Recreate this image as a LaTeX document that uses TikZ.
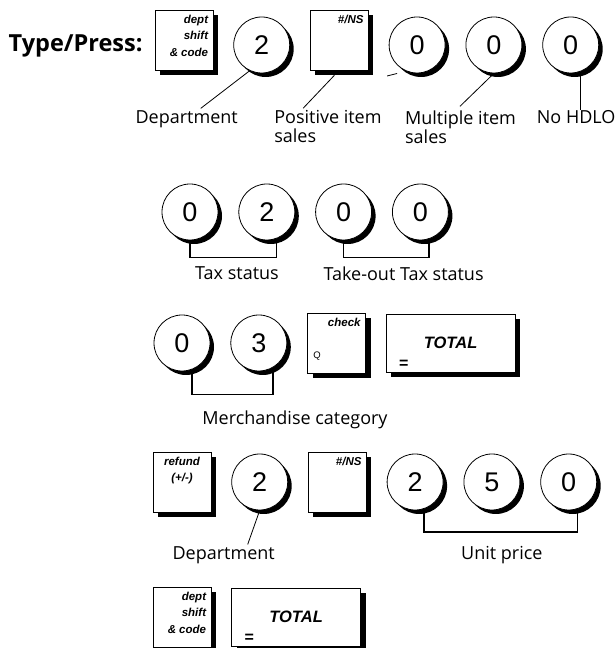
\documentclass[tikz,border=0pt]{standalone}
\usepackage{fontspec}
\setmainfont{Open Sans}
\newfontfamily\keyfont{Liberation Sans}
\usetikzlibrary{positioning, shadows}

\begin{document}
\begin{tikzpicture}[x=1pt, y=1pt,
  key/.style={rectangle, draw=black, line width=0.6pt, fill=white, minimum width=58pt, minimum height=60pt, inner sep=0pt,
    drop shadow={shadow xshift=5pt, shadow yshift=-5pt, fill=black, opacity=1}},
  widekey/.style={key, minimum width=129pt, minimum height=58pt, font=\keyfont\bfseries\itshape\fontsize{16.5}{18}\selectfont},
  numkey/.style={circle, draw=black, line width=0.8pt, fill=white, minimum size=56pt, inner sep=0pt, font=\keyfont\fontsize{27}{30}\selectfont,
    drop shadow={shadow xshift=4pt, shadow yshift=-4pt, fill=black, opacity=1}},
  keytag/.style={font=\keyfont\bfseries\itshape\fontsize{11.5}{16.5}\selectfont, inner sep=5pt},
  keymark/.style={font=\keyfont\fontsize{9.5}{10}\selectfont, inner sep=0pt},
  eqmark/.style={font=\keyfont\bfseries\fontsize{16}{16}\selectfont, inner sep=0pt},
  lbl/.style={font=\fontsize{18}{19}\selectfont, inner sep=0pt, align=left},
  lead/.style={draw=black, line width=0.8pt},
  bracket/.style={draw=black, line width=1.6pt}
]
  \useasboundingbox (0,0) rectangle (615,648);

  % first sequence
  \node[key, label={[keytag, anchor=north east, align=right]north east:dept\\shift\\\& code}] (k11) at (184,608) {};
  \node[font=\bfseries\fontsize{23.5}{26}\selectfont, inner sep=0pt, left=12pt of k11, yshift=-6pt] (type) {Type/Press:};
  \node[numkey, right=20pt of k11, yshift=-5pt] (c12) {2};
  \node[key, right=20pt of c12, yshift=5pt, label={[keytag, anchor=north east]north east:\#/NS}] (k13) {};
  \node[numkey, right=20pt of k13, yshift=-5pt] (c14) {0};
  \node[numkey, right=20pt of c14] (c15) {0};
  \node[numkey, right=20pt of c15] (c16) {0};

  \node[lbl, below=37pt of c12, xshift=-75pt] (dep1) {Department};
  \node[lbl, below=40pt of k13.south west, anchor=north west, xshift=-36pt] (pos) {Positive item\\sales};
  \node[lbl, below=37pt of c15.south, anchor=north west, xshift=-89pt] (mul) {Multiple item\\sales};
  \node[lbl, below=37pt of c16.south, anchor=north west, xshift=-34pt] (hdlo) {No HDLO};

  \draw[lead] (c12.-115) -- ([xshift=14pt,yshift=2pt]dep1.north);
  \draw[lead] ([xshift=-5pt,yshift=-5pt]k13.south) -- ([xshift=29pt,yshift=2pt]pos.north west);
  \draw[lead] ([shift={(-30pt,-31pt)}]c14.center) -- ++(10pt,2.5pt);
  \draw[lead] (c15.south) -- ([xshift=55pt,yshift=4pt]mul.north west);
  \draw[bracket] (c16.-70) -- (c16.-70 |- hdlo.north);

  % tax status
  \node[numkey] (c21) at (190,436) {0};
  \node[numkey, right=20pt of c21] (c22) {2};
  \node[numkey, right=20pt of c22] (c23) {0};
  \node[numkey, right=20pt of c23] (c24) {0};
  \draw[bracket] (c21.south) -- ++(0,-17) -| (c22.-70);
  \draw[bracket] (c23.south) -- ++(0,-17) -| (c24.-72);
  \node[lbl, below=26pt of c21, xshift=47pt] (tax) {Tax status};
  \node[lbl, below=26pt of c23, xshift=60pt] (tko) {Take-out Tax status};

  % merchandise category
  \node[numkey] (c31) at (182,305) {0};
  \node[numkey, right=20pt of c31] (c32) {3};
  \node[key, right=20pt of c32, label={[keytag, anchor=north east]north east:check},
    label={[keymark, anchor=south west, xshift=6pt, yshift=13pt]south west:Q}] (k33) {};
  \node[widekey, right=20pt of k33, label={[eqmark, anchor=south west, xshift=13pt, yshift=4pt]south west:=}] (k34) {TOTAL};
  \draw[bracket] (c31.-70) -- ++(0,-25) -| (c32.-60);
  \node[lbl, below=39pt of c31, xshift=113pt] (mer) {Merchandise category};

  % refund
  \node[key, label={[keytag, anchor=north, align=center]north:refund\\(+/-)}] (k41) at (182,166) {};
  \node[numkey, right=20pt of k41] (c42) {2};
  \node[key, right=20pt of c42, label={[keytag, anchor=north east]north east:\#/NS}] (k43) {};
  \node[numkey, right=20pt of k43] (c44) {2};
  \node[numkey, right=20pt of c44] (c45) {5};
  \node[numkey, right=20pt of c45] (c46) {0};
  \node[lbl, below=36pt of c42, xshift=-36pt] (dep2) {Department};
  \draw[lead] (c42.south) -- ([xshift=24pt,yshift=2pt]dep2.north);
  \draw[bracket] (c44.-72) -- ++(0,-23) -| (c46.-72);
  \node[lbl, below=36pt of c45, xshift=10pt] (unit) {Unit price};

  % close
  \node[key, label={[keytag, anchor=north east, align=right]north east:dept\\shift\\\& code}] (k51) at (182,31) {};
  \node[widekey, right=20pt of k51, label={[eqmark, anchor=south west, xshift=13pt, yshift=4pt]south west:=}] (k52) {TOTAL};
\end{tikzpicture}
\end{document}
